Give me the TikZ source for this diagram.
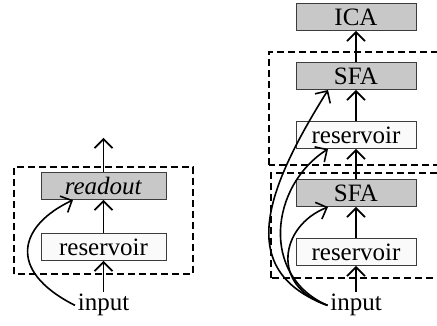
\documentclass[tikz,border=0pt]{standalone}
\usepackage{fontspec}
\setmainfont{Liberation Serif}
\usetikzlibrary{arrows.meta}

\definecolor{stagegray}{RGB}{200,200,200}
\definecolor{resfill}{RGB}{250,250,250}
\definecolor{edgegray}{RGB}{60,60,60}

\begin{document}
\begin{tikzpicture}[x=1pt,y=1pt,
					>={Straight Barb[length=9pt,width=18pt]},
					line width=1.6pt,
					node distance=59pt,
					font=\fontsize{25}{25}\selectfont,
					stage/.style={rectangle,draw=edgegray,line width=1pt,minimum height=27pt,inner sep=0pt},
					train node/.style={stage,fill=stagegray},
					res node/.style={stage,fill=resfill},
					group/.style={dash pattern=on 7pt off 4pt,line width=1.2pt}]

  \useasboundingbox (0,0) rectangle (437,326);
  \clip (0,0) rectangle (437,326);

  % one reservoir with a readout on top
  \node[res node,minimum width=125pt] (resA) at (103.5,79) {reservoir};
  \node[train node,minimum width=125pt] (readout) [above of=resA,node distance=61pt] {\textit{readout}};
  \node[anchor=base,inner sep=2pt] (inA) at (103.5,15) {input};
  \coordinate (outA) at (103.5,188);
  \draw[group] (14,52) rectangle (193,159);

  \path[->]
    (inA) edge (resA)
    (resA) edge (readout)
    (readout) edge (outA);
  \draw[->] (inA.west) .. controls (5,56) and (20,101) .. ([xshift=-30.5pt]readout.south);

  % two stacked reservoir/SFA layers, ICA on top
  \node[res node,minimum width=120pt] (resB) at (356,74) {reservoir};
  \node[train node,minimum width=120pt] (sfaB) [above of=resB] {SFA};
  \node[res node,minimum width=120pt] (resC) [above of=sfaB,node distance=58pt] {reservoir};
  \node[train node,minimum width=120pt] (sfaC) [above of=resC] {SFA};
  \node[train node,minimum width=120pt] (ica) [above of=sfaC,node distance=59pt] {ICA};
  \node[anchor=base,inner sep=2pt] (inB) at (356,15) {input};
  \draw[group] (269,161) rectangle (445,274);
  \draw[group] (271,48) rectangle (445,153);

  \path[->]
    (inB) edge (resB)
    (resB) edge (sfaB)
    (sfaB) edge (resC)
    (resC) edge (sfaC)
    (sfaC) edge (ica);
  \draw[->] (inB.west) .. controls (235,55) and (265,135) .. ([xshift=-28pt]sfaC.south);
  \draw[->] (inB.west) .. controls (260,50) and (270,140) .. ([xshift=-28pt]resC.south);
  \draw[->] (inB.west) .. controls (270,40) and (280,100) .. ([xshift=-28pt]sfaB.south);
\end{tikzpicture}
\end{document}
